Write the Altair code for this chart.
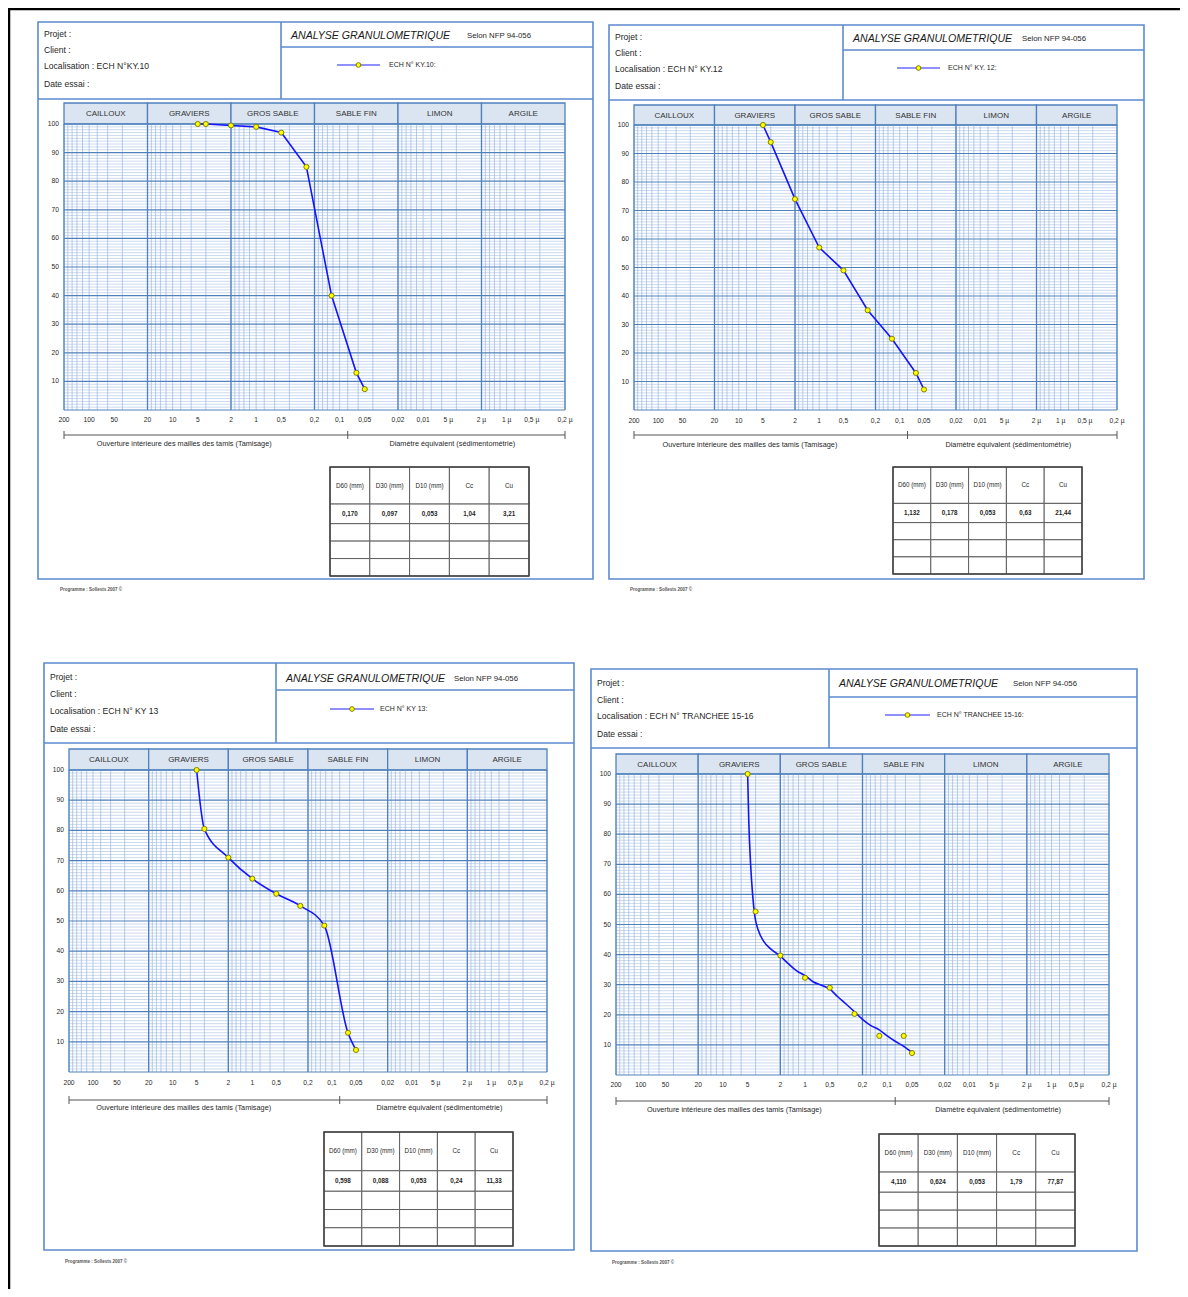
import altair as alt
import pandas as pd

W, H = 1172, 1281
O = 8  # page margin: image coords -> chart coords

# ---------------- data ----------------
SIEVES_MM = [5, 4, 2, 1, 0.5, 0.25, 0.125, 0.063, 0.05]
PASS_KY10 = [100, 100, 99.5, 99, 97, 85, 40, 13, 7.3]
PASS_KY12 = [100, 94, 74, 57, 49, 35, 25, 13, 7.2]
PASS_KY13 = [100, 80.5, 71, 64, 59, 55, 48.5, 13, 7.3]
PASS_TR1516 = [100, 54.3, 39.7, 32.3, 29, 20.3, 13, 13, 7.3]
FIT_TR1516_MM = [5, 4.85, 4.6, 4.35, 4.1, 3.7, 3.2, 2.6, 2, 1.6, 1.25, 1, 0.8, 0.63,
                 0.5, 0.4, 0.315, 0.25, 0.2, 0.16, 0.125, 0.1, 0.08, 0.063, 0.05]
FIT_TR1516_PASS = [100, 85, 70, 60, 53, 48, 44.5, 41.8, 39.5, 37, 34.5, 33, 31, 29.8,
                   28.5, 26, 23.5, 21, 18.5, 16.5, 15, 13, 11.2, 9.5, 7.5]

LOCALISATIONS = ["ECH N°KY.10", "ECH N° KY.12", "ECH N° KY 13", "ECH N° TRANCHEE 15-16"]
LEGEND_LABELS = ["ECH N° KY.10:", "ECH N° KY. 12:", "ECH N° KY 13:", "ECH N° TRANCHEE 15-16:"]
D60 = ["0,170", "1,132", "0,598", "4,110"]
D30 = ["0,097", "0,178", "0,088", "0,624"]
D10 = ["0,053", "0,053", "0,053", "0,053"]
CC = ["1,04", "0,63", "0,24", "1,79"]
CU = ["3,21", "21,44", "11,33", "77,87"]
TABLE_HEADERS = ["D60 (mm)", "D30 (mm)", "D10 (mm)", "Cc", "Cu"]
CLASSES = ["CAILLOUX", "GRAVIERS", "GROS SABLE", "SABLE FIN", "LIMON", "ARGILE"]
CLASS_BOUNDS_MM = [200, 20, 2, 0.2, 0.02, 0.002, 0.0002]
X_TICKS_MM = [200, 100, 50, 20, 10, 5, 2, 1, 0.5, 0.2, 0.1, 0.05, 0.02, 0.01,
              0.005, 0.002, 0.001, 0.0005, 0.0002]
X_TICK_LABELS = ["200", "100", "50", "20", "10", "5", "2", "1", "0,5", "0,2", "0,1",
                 "0,05", "0,02", "0,01", "5 µ", "2 µ", "1 µ", "0,5 µ", "0,2 µ"]
Y_TICKS = [10, 20, 30, 40, 50, 60, 70, 80, 90, 100]
HEADER_FIELDS = ["Projet :", "Client :", "Localisation : ", "Date essai :"]
TITLE = "ANALYSE GRANULOMETRIQUE"
NORM = "Selon NFP 94-056"
SIEVE_LIMIT_MM = 0.08
BRACKET_LABELS = ["Ouverture intérieure des mailles des tamis (Tamisage)",
                  "Diamètre équivalent (sédimentométrie)"]
FOOTER = "Programme : Sollests 2007 ©"

SAMPLES = [
    dict(pts=PASS_KY10, fit_d=SIEVES_MM, fit_p=PASS_KY10, interp="linear"),
    dict(pts=PASS_KY12, fit_d=SIEVES_MM, fit_p=PASS_KY12, interp="linear"),
    dict(pts=PASS_KY13, fit_d=SIEVES_MM, fit_p=PASS_KY13, interp="monotone"),
    dict(pts=PASS_TR1516, fit_d=FIT_TR1516_MM, fit_p=FIT_TR1516_PASS, interp="monotone"),
]

# ---------------- layout (image pixel coordinates) ----------------
SHEETS = [
    dict(box=(38, 22, 593, 579), hdiv=281, tline=47, hbot=99, px=(64, 565), band=(103, 124), gbot=410,
         rows=(34, 50, 66, 84), title_y=36, selon_x=467, leg=(337, 380, 65), legtext_x=389,
         xlab_y=420, brk_y=435, brk_lab_y=444, table=(330, 467, 529, 576), foot=(60, 590)),
    dict(box=(609, 25, 1144, 579), hdiv=843, tline=50, hbot=100, px=(634, 1117), band=(105, 125), gbot=410,
         rows=(37, 53, 69, 86), title_y=39, selon_x=1022, leg=(897, 940, 68), legtext_x=948,
         xlab_y=421, brk_y=435, brk_lab_y=445, table=(893, 467, 1082, 574), foot=(630, 590)),
    dict(box=(44, 663, 574, 1250), hdiv=276, tline=690, hbot=743, px=(69, 547), band=(749, 770), gbot=1072,
         rows=(677, 694, 711, 729), title_y=679, selon_x=454, leg=(330, 374, 709), legtext_x=380,
         xlab_y=1083, brk_y=1100, brk_lab_y=1108, table=(324, 1132, 513, 1246), foot=(65, 1262)),
    dict(box=(591, 669, 1137, 1251), hdiv=829, tline=697, hbot=748, px=(616, 1109), band=(754, 774), gbot=1075,
         rows=(683, 700, 716, 734), title_y=684, selon_x=1013, leg=(885, 930, 715), legtext_x=937,
         xlab_y=1085, brk_y=1101, brk_lab_y=1110, table=(879, 1134, 1075, 1246), foot=(612, 1263)),
]

FONT = "Liberation Sans, Arial, sans-serif"
BLUE = "#4f81bd"
BLUE_MINOR = "#9fbbe1"
BAND_FILL = "#dbe5f1"
TXT = "#1f1f1f"

PXX = alt.Scale(domain=[0, W], range=[0, W], nice=False, zero=False)
PXY = alt.Scale(domain=[0, H], range=[0, H], nice=False, zero=False)


def px(v):
    return v - O


def X(field, scale):
    return alt.X(f"{field}:Q", scale=scale, axis=None)


def Y(field, scale):
    return alt.Y(f"{field}:Q", scale=scale, axis=None)


layers = []

# ---------- frame of the page ----------
frame = pd.DataFrame([
    dict(x=0, x2=W, y=1, y2=1),
    dict(x=1, x2=1, y=0, y2=H),
])
layers.append(alt.Chart(frame).mark_rule(color="#000000", strokeWidth=2.5).encode(
    x=X("x", PXX), x2="x2", y=Y("y", PXY), y2="y2"))

# ---------- sheet boxes / header lines ----------
boxes, hlines, texts_rows, titles, selons, legtexts, legline, legpt = [], [], [], [], [], [], [], []
brk_labels, foots = [], []
for i, s in enumerate(SHEETS):
    x0, y0, x1, y1 = s["box"]
    boxes.append(dict(x=px(x0), x2=px(x1), y=px(y0), y2=px(y1)))
    hlines += [
        dict(x=px(s["hdiv"]), x2=px(s["hdiv"]), y=px(y0), y2=px(s["hbot"])),
        dict(x=px(s["hdiv"]), x2=px(x1), y=px(s["tline"]), y2=px(s["tline"])),
        dict(x=px(x0), x2=px(x1), y=px(s["hbot"]), y2=px(s["hbot"])),
    ]
    for k, lab in enumerate(HEADER_FIELDS):
        t = lab + (LOCALISATIONS[i] if k == 2 else "")
        texts_rows.append(dict(x=px(x0 + 6), y=px(s["rows"][k]), t=t))
    titles.append(dict(x=px(s["hdiv"] + 10), y=px(s["title_y"]), t=TITLE))
    selons.append(dict(x=px(s["selon_x"]), y=px(s["title_y"]), t=NORM))
    la, lb, ly = s["leg"]
    legline.append(dict(x=px(la), x2=px(lb), y=px(ly), y2=px(ly)))
    legpt.append(dict(x=px((la + lb) / 2), y=px(ly)))
    legtexts.append(dict(x=px(s["legtext_x"]), y=px(ly), t=LEGEND_LABELS[i]))
    p0, p1 = s["px"]
    brk_labels.append(dict(x=px(p0 + 0.24 * (p1 - p0)), y=px(s["brk_lab_y"]), t=BRACKET_LABELS[0]))
    brk_labels.append(dict(x=px(p0 + 0.775 * (p1 - p0)), y=px(s["brk_lab_y"]), t=BRACKET_LABELS[1]))
    foots.append(dict(x=px(s["foot"][0]), y=px(s["foot"][1]), t=FOOTER))

layers.append(alt.Chart(pd.DataFrame(boxes)).mark_rect(fill="#ffffff", stroke="#5b8bd0", strokeWidth=1.6).encode(
    x=X("x", PXX), x2="x2", y=Y("y", PXY), y2="y2"))
layers.append(alt.Chart(pd.DataFrame(hlines)).mark_rule(color="#5b8bd0", strokeWidth=1.6).encode(
    x=X("x", PXX), x2="x2", y=Y("y", PXY), y2="y2"))


def text_layer(rows, size, align="left", weight="normal", style="normal", color=TXT):
    return alt.Chart(pd.DataFrame(rows)).mark_text(
        align=align, baseline="middle", fontSize=size, font=FONT, fontWeight=weight,
        fontStyle=style, color=color).encode(x=X("x", PXX), y=Y("y", PXY), text="t:N")


layers.append(text_layer(texts_rows, 8.6))
layers.append(text_layer(titles, 10.6, style="italic", color="#1a1a1a"))
layers.append(text_layer(selons, 7.8))
layers.append(alt.Chart(pd.DataFrame(legline)).mark_rule(color="#8f8fff", strokeWidth=2).encode(
    x=X("x", PXX), x2="x2", y=Y("y", PXY), y2="y2"))
layers.append(alt.Chart(pd.DataFrame(legpt)).mark_point(
    shape="circle", size=22, fill="#ffff00", fillOpacity=1, stroke="#7f7f00", strokeWidth=1, opacity=1).encode(
    x=X("x", PXX), y=Y("y", PXY)))
layers.append(text_layer(legtexts, 7))
layers.append(text_layer(brk_labels, 7.3, align="center"))
layers.append(text_layer(foots, 4.5, weight="bold", color="#555555"))

# ---------- tables ----------
ROW_FR = [0.34, 0.18, 0.16, 0.16, 0.16]
cells, thead, tvals, touter = [], [], [], []
for i, s in enumerate(SHEETS):
    tx0, ty0, tx1, ty1 = s["table"]
    cw = (tx1 - tx0) / 5
    th = ty1 - ty0
    yy = [ty0]
    for f in ROW_FR:
        yy.append(yy[-1] + f * th)
    vals = [D60[i], D30[i], D10[i], CC[i], CU[i]]
    touter.append(dict(x=px(tx0), x2=px(tx1), y=px(ty0), y2=px(ty1)))
    for r in range(5):
        for c in range(5):
            cells.append(dict(x=px(tx0 + c * cw), x2=px(tx0 + (c + 1) * cw), y=px(yy[r]), y2=px(yy[r + 1])))
    for c in range(5):
        cx = px(tx0 + (c + 0.5) * cw)
        thead.append(dict(x=cx, y=px((yy[0] + yy[1]) / 2), t=TABLE_HEADERS[c]))
        tvals.append(dict(x=cx, y=px((yy[1] + yy[2]) / 2), t=vals[c]))

layers.append(alt.Chart(pd.DataFrame(cells)).mark_rect(fill="#ffffff", stroke="#5f5f5f", strokeWidth=1).encode(
    x=X("x", PXX), x2="x2", y=Y("y", PXY), y2="y2"))
layers.append(alt.Chart(pd.DataFrame(touter)).mark_rect(fill="transparent", stroke="#404040", strokeWidth=1.5).encode(
    x=X("x", PXX), x2="x2", y=Y("y", PXY), y2="y2"))
layers.append(text_layer(thead, 6.3, align="center"))
layers.append(text_layer(tvals, 6.3, align="center", weight="bold"))

# ---------- plots (one log/linear scale pair per sheet) ----------
minor_v = []
for n in range(-4, 3):
    for k in range(2, 20, 2):
        v = k * 10.0 ** n
        if 0.0002 <= v <= 200:
            minor_v.append(v)

for i, s in enumerate(SHEETS):
    p0, p1 = s["px"]
    xs = alt.Scale(type="log", domain=[0.0002, 200], range=[px(p1), px(p0)], nice=False)
    ys = alt.Scale(domain=[0, 100], range=[px(s["gbot"]), px(s["band"][1])], nice=False, zero=False)
    bt, bb = s["band"]

    # band header
    band = pd.DataFrame(dict(a=CLASS_BOUNDS_MM[:-1], b=CLASS_BOUNDS_MM[1:], lab=CLASSES))
    band["mid"] = (band["a"] * band["b"]) ** 0.5
    layers.append(alt.Chart(band).mark_rect(fill=BAND_FILL, stroke=BLUE, strokeWidth=1.3).encode(
        x=X("a", xs), x2="b", y=alt.value(px(bt)), y2=alt.value(px(bb))))
    layers.append(alt.Chart(band).mark_text(fontSize=8, font=FONT, color="#333333", baseline="middle").encode(
        x=X("mid", xs), y=alt.value(px((bt + bb) / 2 + 0.5)), text="lab:N"))

    # grid
    gv = pd.DataFrame(dict(d=minor_v, y0=0, y1=100))
    layers.append(alt.Chart(gv).mark_rule(color=BLUE_MINOR, strokeWidth=0.75).encode(
        x=X("d", xs), y=Y("y0", ys), y2="y1"))
    gh = pd.DataFrame(dict(p=[v for v in range(0, 101, 1) if v % 10], xa=0.0002, xb=200))
    layers.append(alt.Chart(gh).mark_rule(color=BLUE_MINOR, strokeWidth=0.55).encode(
        y=Y("p", ys), x=X("xa", xs), x2="xb"))
    gH = pd.DataFrame(dict(p=list(range(0, 101, 10)), xa=0.0002, xb=200))
    layers.append(alt.Chart(gH).mark_rule(color=BLUE, strokeWidth=1.2).encode(
        y=Y("p", ys), x=X("xa", xs), x2="xb"))
    gV = pd.DataFrame(dict(d=CLASS_BOUNDS_MM, y0=0, y1=100))
    layers.append(alt.Chart(gV).mark_rule(color=BLUE, strokeWidth=1.3).encode(
        x=X("d", xs), y=Y("y0", ys), y2="y1"))

    # curve and points
    smp = SAMPLES[i]
    fit = pd.DataFrame(dict(d=smp["fit_d"], p=smp["fit_p"]))
    layers.append(alt.Chart(fit).mark_line(color="#1414ff", strokeWidth=1.6, interpolate=smp["interp"]).encode(
        x=X("d", xs), y=Y("p", ys), order=alt.Order("d:Q", sort="descending")))
    pts = pd.DataFrame(dict(d=SIEVES_MM, p=smp["pts"]))
    layers.append(alt.Chart(pts).mark_point(
        shape="circle", size=26, fill="#ffff00", fillOpacity=1, stroke="#7f7f00", strokeWidth=1, opacity=1).encode(
        x=X("d", xs), y=Y("p", ys)))

    # tick labels
    yt = pd.DataFrame(dict(p=Y_TICKS, t=[str(v) for v in Y_TICKS]))
    layers.append(alt.Chart(yt).mark_text(fontSize=6.7, font=FONT, color=TXT, align="right", baseline="middle").encode(
        y=Y("p", ys), x=alt.value(px(p0 - 5)), text="t:N"))
    xt = pd.DataFrame(dict(d=X_TICKS_MM, t=X_TICK_LABELS))
    layers.append(alt.Chart(xt).mark_text(fontSize=6.7, font=FONT, color=TXT, align="center", baseline="middle").encode(
        x=X("d", xs), y=alt.value(px(s["xlab_y"])), text="t:N"))

    # bracket
    br = pd.DataFrame(dict(a=[200], b=[0.0002]))
    layers.append(alt.Chart(br).mark_rule(color="#555555", strokeWidth=1).encode(
        x=X("a", xs), x2="b", y=alt.value(px(s["brk_y"]))))
    bt_ = pd.DataFrame(dict(d=[200, SIEVE_LIMIT_MM, 0.0002]))
    layers.append(alt.Chart(bt_).mark_rule(color="#555555", strokeWidth=1).encode(
        x=X("d", xs), y=alt.value(px(s["brk_y"] - 4)), y2=alt.value(px(s["brk_y"] + 4))))

chart = alt.layer(*layers).resolve_scale(x="independent", y="independent").properties(
    width=W, height=H, autosize=alt.AutoSizeParams(type="none"), padding=0, background="#ffffff"
).configure_view(stroke=None)

chart.save("out.html", embed_options={"renderer": "svg", "actions": False})
